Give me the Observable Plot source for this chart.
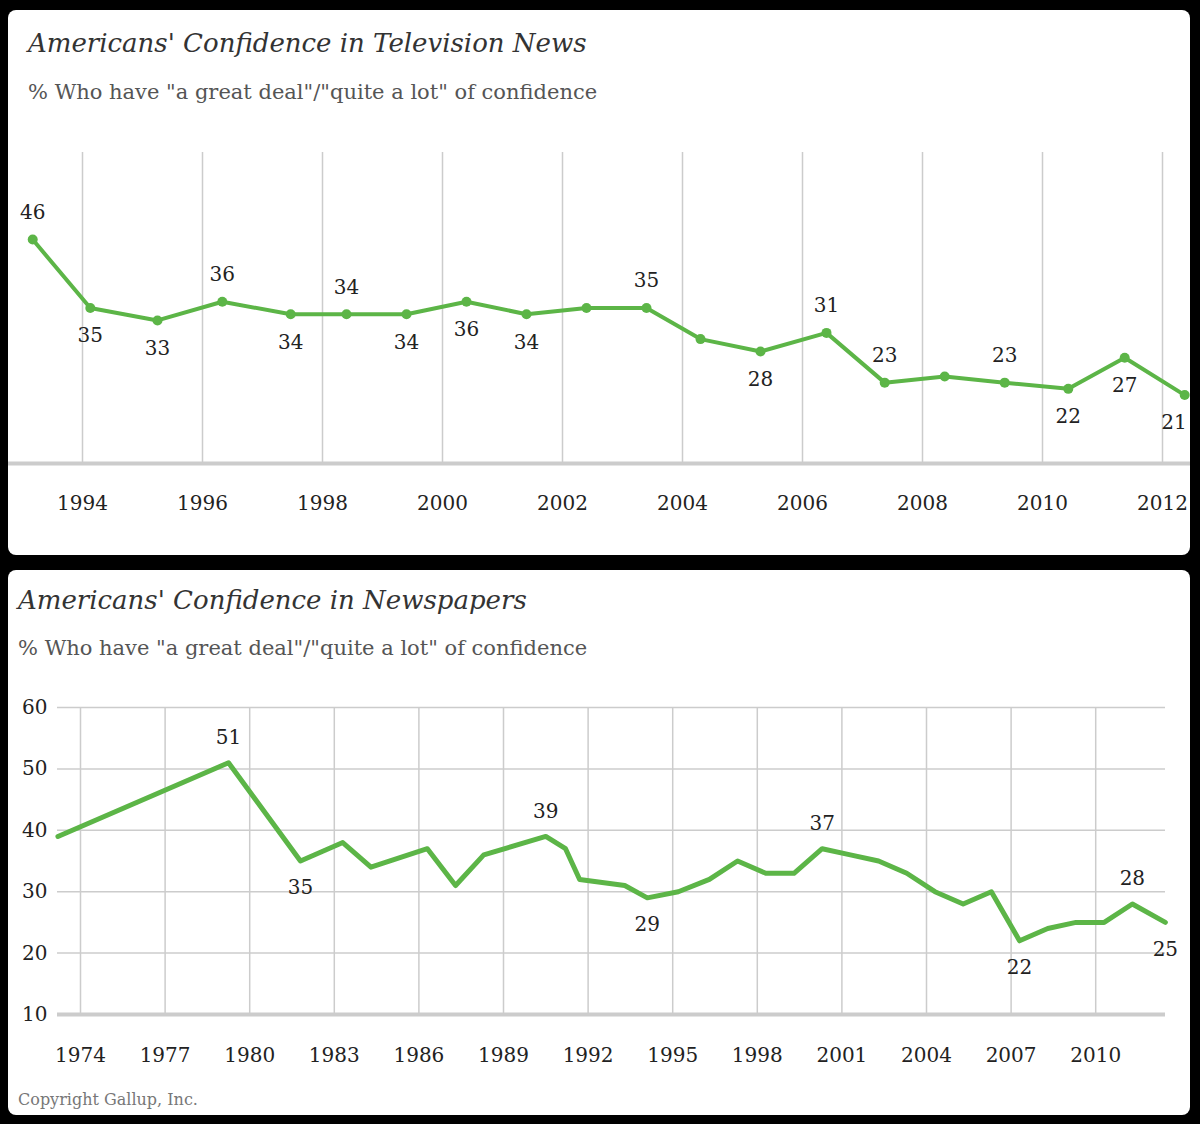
<!DOCTYPE html>
<html><head><meta charset="utf-8">
<script src="https://cdn.jsdelivr.net/npm/d3@7"></script>
<script src="https://cdn.jsdelivr.net/npm/@observablehq/plot@0.6"></script>
<style>
body{margin:0;background:#000;width:1200px;height:1124px;overflow:hidden;font-family:"DejaVu Serif","Liberation Serif",serif;}
.panel{position:absolute;left:8px;width:1182px;height:545px;background:#fff;border-radius:8px;overflow:hidden;}
.title{position:absolute;left:20px;font-style:italic;font-size:26px;color:#333;}
.sub{position:absolute;left:20px;font-size:21px;color:#555;}
.panel svg{position:absolute;left:0;top:0;}
</style></head><body>
<div class="panel" id="p1" style="top:10px"><div class="title" style="top:18px">Americans' Confidence in Television News</div><div class="sub" style="top:70px">% Who have "a great deal"/"quite a lot" of confidence</div></div>
<div class="panel" id="p2" style="top:570px"><div class="title" style="top:15px;left:10px">Americans' Confidence in Newspapers</div><div class="sub" style="top:66px;left:10px">% Who have "a great deal"/"quite a lot" of confidence</div><div class="sub" style="top:520px;left:10px;font-size:16px;color:#777">Copyright Gallup, Inc.</div></div>
<script>
const green="#5cb547";
// TV news
const tvYears=[1993.17,1994.13,1995.25,1996.33,1997.47,1998.4,1999.4,2000.4,2001.4,2002.4,2003.4,2004.3,2005.3,2006.4,2007.37,2008.37,2009.37,2010.43,2011.37,2012.37];
const tvValues=[46,35,33,36,34,34,34,36,34,35,35,30,28,31,23,24,23,22,27,21];
const tvLabelPos=["above","below","below","above","below","above","below","below","below","","above","","below","above","above","","above","below","below","below"];
const tvTicks=[1994,1996,1998,2000,2002,2004,2006,2008,2010,2012];
// Newspapers
const npYears=[1973.2,1979.25,1981.8,1983.3,1984.3,1986.3,1987.3,1988.3,1990.5,1991.2,1991.7,1993.3,1994.1,1995.2,1996.3,1997.3,1998.3,1999.3,2000.3,2001.3,2002.3,2003.3,2004.3,2005.3,2006.3,2007.3,2008.3,2009.3,2010.3,2011.3,2012.47];
const npValues=[39,51,35,38,34,37,31,36,39,37,32,31,29,30,32,35,33,33,37,36,35,33,30,28,30,22,24,25,25,28,25];
const npLabelPos=["","above","below","","","","","","above","","","","below","","","","","","above","","","","","","","below","","","","above","below"];
const npXTicks=[1974,1977,1980,1983,1986,1989,1992,1995,1998,2001,2004,2007,2010];
const npYTicks=[10,20,30,40,50,60];

const tv=tvYears.map((x,i)=>({x,y:tvValues[i],pos:tvLabelPos[i]}));
const np=npYears.map((x,i)=>({x,y:npValues[i],pos:npLabelPos[i]}));
const font='"DejaVu Serif","Liberation Serif",serif';
const lbl=(data,pos,dy,opts={})=>Plot.text(data.filter(d=>d.pos===pos),{x:"x",y:"y",text:d=>String(d.y),dy,fontSize:20,fill:"#222",...opts});

const p1=Plot.plot({
  width:1182,height:545,marginTop:142,marginBottom:92,marginLeft:0,marginRight:0,
  style:{fontFamily:font,fontSize:"20px",color:"#222",background:"transparent"},
  x:{domain:[1994-74/60,1994-74/60+1182/60],axis:null},
  y:{domain:[10,60],axis:null},
  marks:[
    Plot.ruleX(tvTicks,{stroke:"#ccc",strokeWidth:1.5,y1:10,y2:60}),
    Plot.ruleY([10],{stroke:"#ccc",strokeWidth:4}),
    Plot.text(tvTicks,{x:d=>d,y:10,text:d=>String(d),dy:40,fontSize:20,fill:"#222"}),
    Plot.line(tv,{x:"x",y:"y",stroke:green,strokeWidth:4}),
    Plot.dot(tv,{x:"x",y:"y",fill:green,r:5}),
    lbl(tv,"above",-27),
    lbl(tv.slice(0,-1),"below",28),
    lbl(tv.slice(-1),"below",28,{textAnchor:"end",dx:2})
  ]
});
document.getElementById("p1").appendChild(p1);

const p2=Plot.plot({
  width:1182,height:545,marginTop:137,marginBottom:101,marginLeft:49,marginRight:25,
  style:{fontFamily:font,fontSize:"20px",color:"#222",background:"transparent"},
  x:{domain:[1974-23/28.2,1974+(1157-72)/28.2],axis:null},
  y:{domain:[10,60],axis:null},
  marks:[
    Plot.ruleX(npXTicks,{stroke:"#ccc",strokeWidth:1.5,y1:10,y2:60}),
    Plot.ruleY(npYTicks.slice(1),{stroke:"#ccc",strokeWidth:1.5}),
    Plot.ruleY([10],{stroke:"#ccc",strokeWidth:4}),
    Plot.text(npYTicks,{x:1974-23/28.2,y:d=>d,text:d=>String(d),dx:-10,textAnchor:"end",fontSize:20,fill:"#222"}),
    Plot.text(npXTicks,{x:d=>d,y:10,text:d=>String(d),dy:41,fontSize:20,fill:"#222"}),
    Plot.line(np,{x:"x",y:"y",stroke:green,strokeWidth:5}),
    lbl(np,"above",-25),
    lbl(np,"below",27)
  ]
});
document.getElementById("p2").appendChild(p2);
</script></body></html>
